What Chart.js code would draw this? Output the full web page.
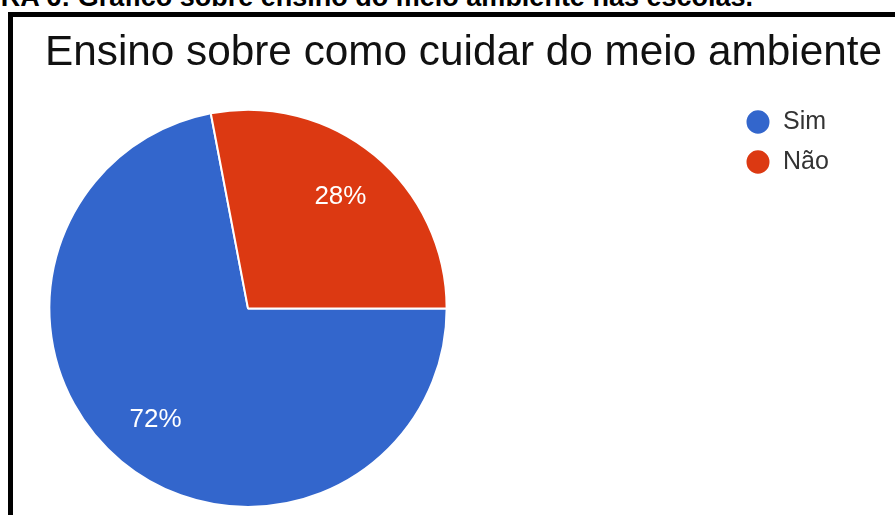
<!DOCTYPE html>
<html lang="pt-BR">
<head>
<meta charset="utf-8">
<title>Ensino sobre como cuidar do meio ambiente</title>
<script src="https://cdn.jsdelivr.net/npm/chart.js@4/dist/chart.umd.min.js"></script>
<style>
  html, body {
    margin: 0;
    padding: 0;
    width: 895px;
    height: 515px;
    overflow: hidden;
    background: #fff;
    font-family: Arial, "Liberation Sans", sans-serif;
  }
  #caption {
    position: absolute;
    right: 142px;
    top: -16px;
    font-weight: bold;
    font-size: 27px;
    line-height: 27px;
    white-space: nowrap;
    color: #000;
  }
  #frame {
    position: absolute;
    left: 8px;
    top: 12px;
    width: 1000px;
    height: 600px;
    border-left: 5px solid #000;
    border-top: 5px solid #000;
    background: #fff;
  }
  #chart-box {
    position: absolute;
    left: 0;
    top: 0;
  }
</style>
</head>
<body>
<div id="caption">FIGURA 6: Gráfico sobre ensino do meio ambiente nas escolas.</div>
<div id="frame">
  <div id="chart-box">
    <canvas id="myChart" width="882" height="498"></canvas>
  </div>
</div>

<script>
const chartTitle = "Ensino sobre como cuidar do meio ambiente";
const categories = ["Sim", "Não"];
const percentages = [72, 28];
const sliceColors = ["#3366cc", "#dc3912"];

const FONT = 'Arial, "Liberation Sans", sans-serif';

// legend sits to the right of the pie, away from the plot area
const legendPlacement = {
  id: "legendPlacement",
  beforeInit(chart) {
    const fit = chart.legend.fit;
    chart.legend.fit = function () {
      fit.call(this);
      this.width = 444;
    };
  },
  afterLayout(chart) {
    chart.legend.left = 717.5;
    chart.legend.top = 77.5;
  }
};

// percentage text inside each slice
const sliceLabels = {
  id: "sliceLabels",
  afterDatasetsDraw(chart) {
    const ctx = chart.ctx;
    const meta = chart.getDatasetMeta(0);
    ctx.save();
    ctx.font = "26px " + FONT;
    ctx.fillStyle = "#ffffff";
    ctx.textAlign = "center";
    ctx.textBaseline = "middle";
    meta.data.forEach((arc, i) => {
      const { x, y, startAngle, endAngle, outerRadius } =
        arc.getProps(["x", "y", "startAngle", "endAngle", "outerRadius"], true);
      const mid = (startAngle + endAngle) / 2;
      const r = outerRadius * 0.73;
      ctx.fillText(percentages[i] + "%", x + Math.cos(mid) * r, y + Math.sin(mid) * r);
    });
    ctx.restore();
  }
};

const ctx = document.getElementById("myChart").getContext("2d");
const myChart = new Chart(ctx, {
  type: "pie",
  data: {
    labels: categories,
    datasets: [{
      data: percentages,
      backgroundColor: sliceColors,
      borderColor: "#ffffff",
      borderWidth: 2
    }]
  },
  options: {
    responsive: false,
    animation: false,
    rotation: 90,
    layout: {
      padding: { left: 32, right: 0, top: 0, bottom: 7 }
    },
    plugins: {
      title: {
        display: true,
        text: chartTitle,
        align: "start",
        color: "#111",
        font: { family: FONT, size: 42.3, weight: "normal" },
        padding: { top: 11, bottom: 30 }
      },
      legend: {
        position: "right",
        align: "start",
        labels: {
          usePointStyle: true,
          pointStyle: "circle",
          boxHeight: 18,
          pointStyleWidth: 25,
          padding: 15,
          color: "#333",
          font: { family: FONT, size: 25 }
        }
      },
      tooltip: { enabled: false }
    }
  },
  plugins: [legendPlacement, sliceLabels]
});
</script>
</body>
</html>
